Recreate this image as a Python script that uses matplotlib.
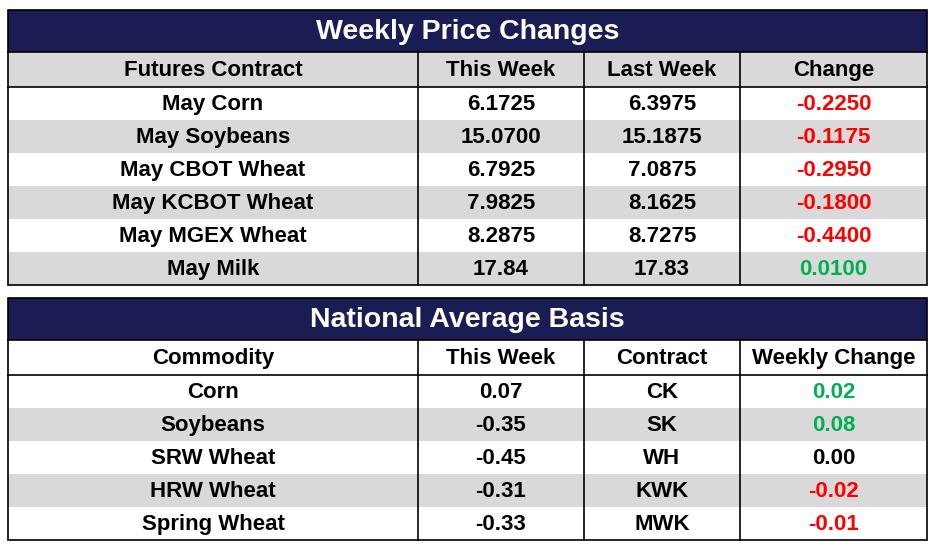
import matplotlib.pyplot as plt
from matplotlib.patches import Rectangle

NAVY = "#1c1c54"
GRAY = "#d9d9d9"
RED = "#ff0000"
GREEN = "#00b050"

# ---- data ----
price_title = "Weekly Price Changes"
price_cols = ["Futures Contract", "This Week", "Last Week", "Change"]
contracts = ["May Corn", "May Soybeans", "May CBOT Wheat", "May KCBOT Wheat",
             "May MGEX Wheat", "May Milk"]
this_week = ["6.1725", "15.0700", "6.7925", "7.9825", "8.2875", "17.84"]
last_week = ["6.3975", "15.1875", "7.0875", "8.1625", "8.7275", "17.83"]
change = ["-0.2250", "-0.1175", "-0.2950", "-0.1800", "-0.4400", "0.0100"]

basis_title = "National Average Basis"
basis_cols = ["Commodity", "This Week", "Contract", "Weekly Change"]
commodities = ["Corn", "Soybeans", "SRW Wheat", "HRW Wheat", "Spring Wheat"]
basis_week = ["0.07", "-0.35", "-0.45", "-0.31", "-0.33"]
basis_contract = ["CK", "SK", "WH", "KWK", "MWK"]
basis_change = ["0.02", "0.08", "0.00", "-0.02", "-0.01"]

xs = [8, 418, 584, 740, 927]
FONT = "Liberation Sans"


def change_color(s):
    v = float(s)
    return RED if v < 0 else (GREEN if v > 0 else "black")


def draw_table(ax, top, title, cols, rows, header_bg):
    title_h, head_h, row_h = 42, 35, 33
    x0, x1 = xs[0], xs[-1]
    ax.add_patch(Rectangle((x0, top), x1 - x0, title_h, fc=NAVY, ec="black", lw=1.2))
    ax.text((x0 + x1) / 2, top + title_h / 2 + 1, title, color="white", fontsize=20.5,
            fontweight="bold", family=FONT, ha="center", va="center")
    y = top + title_h
    ax.add_patch(Rectangle((x0, y), x1 - x0, head_h, fc=header_bg, ec="none"))
    for i, c in enumerate(cols):
        ax.text((xs[i] + xs[i + 1]) / 2, y + head_h / 2 + 1, c, fontsize=16,
                fontweight="bold", family=FONT, ha="center", va="center")
    ax.plot([x0, x1], [y + head_h, y + head_h], color="black", lw=1.2)
    y += head_h
    for r, row in enumerate(rows):
        if r % 2 == 1:
            ax.add_patch(Rectangle((x0, y), x1 - x0, row_h, fc=GRAY, ec="none"))
        for i, val in enumerate(row):
            col = change_color(val) if i == 3 else "black"
            ax.text((xs[i] + xs[i + 1]) / 2, y + row_h / 2 + 1, val, color=col,
                    fontsize=16, fontweight="bold", family=FONT, ha="center", va="center")
        y += row_h
    bottom = y
    for xv in xs[1:-1]:
        ax.plot([xv, xv], [top + title_h, bottom], color="black", lw=1.2)
    ax.add_patch(Rectangle((x0, top + title_h), x1 - x0, bottom - top - title_h,
                           fc="none", ec="black", lw=1.2))


fig = plt.figure(figsize=(9.35, 5.49), dpi=100)
ax = fig.add_axes([0, 0, 1, 1])
ax.set_xlim(0, 935)
ax.set_ylim(549, 0)
ax.axis("off")

draw_table(ax, 10, price_title, price_cols,
           list(zip(contracts, this_week, last_week, change)), GRAY)
draw_table(ax, 298, basis_title, basis_cols,
           list(zip(commodities, basis_week, basis_contract, basis_change)), "white")

fig.savefig("out.png", dpi=100, facecolor="white")
